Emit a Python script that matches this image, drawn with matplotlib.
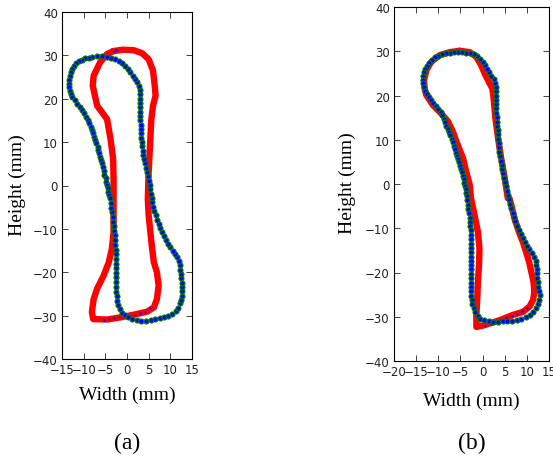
import matplotlib
matplotlib.use("Agg")
import matplotlib.pyplot as plt
import numpy as np

# ---- (a) red contour (thick) ----
red_a_x = [-3.1, -1.0, 1.5, 3.5, 5.0, 6.0, 6.4, 6.6, 6.0, 5.6, 5.4, 5.2, 5.0, 4.8, 5.0, 5.4, 5.8, 6.2,
           6.9, 7.3, 6.9, 6.2, 4.6, 1.5, -1.5, -4.6, -7.8, -8.1, -7.7, -6.9, -5.4, -4.2, -3.5, -3.1,
           -3.1, -3.1, -3.2, -3.8, -4.6, -6.9, -7.9, -7.7, -6.2, -4.6, -3.1]
red_a_y = [31.0, 31.3, 31.2, 30.5, 29.1, 26.5, 23.0, 20.7, 18.4, 15.0, 11.0, 7.0, 3.1, -3.1, -6.9, -10.8,
           -14.6, -17.7, -20.0, -23.1, -26.2, -28.1, -29.1, -29.8, -30.4, -30.9, -30.8, -29.2, -26.2,
           -23.8, -20.8, -17.7, -14.6, -10.8, -3.1, 1.5, 6.1, 10.7, 15.3, 18.4, 23.0, 25.3, 28.4, 30.3, 31.0]

# ---- (a) dotted contour ----
grn_a_x = [-6.9, -8.1, -8.8, -9.6, -10.4, -11.1, -11.7, -12.2, -12.7, -13.0, -13.2, -13.4, -13.4, -13.4,
           -13.2, -13.0, -12.6, -12.1, -11.5, -10.9, -10.4, -9.9, -9.5, -9.1, -8.7, -8.4, -8.1, -7.8,
           -7.6, -7.4, -7.1, -6.8, -6.6, -6.4, -6.2, -5.9, -5.7, -5.5, -5.3, -5.2, -4.9, -4.8, -4.6,
           -4.5, -4.3, -4.2, -4.0, -3.8, -3.6, -3.5, -3.3, -3.2, -3.0, -2.9, -2.8, -2.8, -2.7, -2.6,
           -2.6, -2.5, -2.5, -2.5, -2.5, -2.5, -2.5, -2.5, -2.5, -2.4, -2.2, -2.0, -1.6, -1.1, -0.5,
           0.3, 1.2, 2.2, 3.3, 4.4, 5.5, 6.5, 7.6, 8.6, 9.5, 10.4, 11.2, 11.8, 12.3, 12.5, 12.7, 12.7,
           12.7, 12.6, 12.5, 12.4, 12.3, 12.2, 12.0, 11.6, 11.1, 10.5, 10.0, 9.5, 8.9, 8.5, 8.1, 7.7,
           7.3, 6.9, 6.6, 6.3, 6.1, 5.8, 5.7, 5.5, 5.3, 5.2, 5.0, 4.8, 4.5, 4.3, 4.1, 3.9, 3.8, 3.6,
           3.5, 3.4, 3.3, 3.2, 3.2, 3.2, 3.1, 3.1, 3.1, 3.1, 3.1, 3.1, 3.1, 3.0, 2.8, 2.4, 1.9, 1.4,
           0.8, 0.2, -0.4, -1.1, -1.8, -2.7, -3.6, -4.6, -5.8]
grn_a_y = [29.9, 29.7, 29.5, 29.3, 29.0, 28.7, 28.2, 27.6, 26.8, 26.1, 25.2, 24.4, 23.5, 22.7, 21.8, 21.0,
           20.3, 19.6, 18.9, 18.2, 17.4, 16.6, 15.9, 15.1, 14.3, 13.5, 12.7, 12.0, 11.2, 10.4, 9.7,
           8.9, 8.1, 7.4, 6.6, 5.8, 5.1, 4.2, 3.4, 2.5, 1.7, 0.9, 0.2, -0.6, -1.4, -2.1, -2.9, -4.0,
           -5.1, -6.2, -7.2, -8.3, -9.4, -10.5, -11.5, -12.6, -13.7, -14.8, -15.8, -16.9, -18.0,
           -19.1, -20.2, -21.2, -22.3, -23.4, -24.5, -25.5, -26.6, -27.6, -28.5, -29.3, -29.9, -30.4,
           -30.8, -31.1, -31.2, -31.2, -31.0, -30.8, -30.6, -30.4, -30.1, -29.6, -28.9, -28.2, -27.2,
           -26.3, -25.4, -24.4, -23.4, -22.4, -21.4, -20.4, -19.4, -18.4, -17.4, -16.5, -15.8, -15.0,
           -14.2, -13.5, -12.6, -11.7, -10.8, -9.8, -8.9, -7.9, -6.9, -5.9, -4.9, -3.9, -2.9, -1.9,
           -0.9, 0.1, 1.1, 2.1, 3.1, 4.1, 5.1, 6.1, 7.0, 8.0, 9.0, 10.0, 11.0, 12.0, 13.0, 14.0, 15.0,
           16.0, 17.0, 18.0, 19.0, 20.0, 21.0, 22.0, 23.0, 23.8, 24.5, 25.3, 26.1, 26.8, 27.6, 28.2,
           28.7, 29.1, 29.4, 29.7, 29.9]

# small blue points lying on the red contour (a)
blu_a_x = [-3.1, -2.5, -5.4, -4.2, -3.0, -1.8, -0.6, 0.6, 1.8, 3.0, 4.2, 5.4]
blu_a_y = [31.0, 31.2, -30.9, -30.8, -30.6, -30.4, -30.2, -30.0, -29.8, -29.5, -29.1, -28.3]

# ---- (b) red contour ----
red_b_x = [-5.2, -2.9, -1.4, -0.3, 0.45, 1.4, 2.2, 2.5, 2.9, 3.5, 4.2, 5.0, 5.7, 6.1, 6.5, 7.2, 8.2,
           9.1, 9.8, 10.5, 11.0, 11.5, 11.7, 11.4, 10.6, 9.1, 6.8, 4.6, 2.3, 0.1, -1.4, -1.4, -1.2,
           -1.05, -0.8, -0.7, -1.05, -1.8, -2.6, -2.9, -3.7, -4.4, -5.6, -6.7, -7.8, -9.3, -11.2,
           -12.7, -13.1, -13.2, -12.7, -11.6, -9.7, -7.4, -5.2]
red_b_y = [30.1, 29.8, 28.7, 26.8, 25.0, 23.1, 21.6, 19.3, 14.8, 10.3, 5.8, 1.3, -3.2, -3.3, -4.8,
           -7.8, -10.8, -13.1, -15.3, -17.6, -19.8, -22.1, -24.4, -26.2, -27.7, -28.9, -29.6, -30.5,
           -31.3, -32.0, -32.3, -29.6, -25.9, -22.1, -18.3, -14.6, -10.8, -7.1, -3.3, -0.2, 2.8, 5.8,
           8.8, 11.8, 14.1, 15.9, 17.8, 20.1, 21.6, 23.5, 25.7, 27.6, 29.1, 29.8, 30.1]

# ---- (b) dotted contour ----
grn_b_x = [-5.6, -6.5, -7.4, -8.3, -9.2, -10.0, -10.8, -11.5, -12.1, -12.6, -12.9, -13.2, -13.4, -13.5,
           -13.4, -13.2, -12.9, -12.6, -12.1, -11.6, -11.1, -10.5, -10.0, -9.5, -9.2, -8.8, -8.5,
           -8.2, -7.9, -7.6, -7.3, -7.0, -6.7, -6.4, -6.2, -5.9, -5.7, -5.5, -5.3, -5.0, -4.8, -4.6,
           -4.4, -4.3, -4.1, -4.0, -3.8, -3.7, -3.5, -3.5, -3.3, -3.2, -3.0, -2.9, -2.9, -2.8, -2.7,
           -2.6, -2.6, -2.6, -2.6, -2.6, -2.6, -2.6, -2.7, -2.7, -2.7, -2.7, -2.7, -2.6, -2.6, -2.6,
           -2.4, -2.3, -2.0, -1.7, -1.1, -0.5, 0.4, 1.4, 2.4, 3.5, 4.5, 5.6, 6.6, 7.7, 8.7, 9.7, 10.6,
           11.4, 12.0, 12.5, 12.7, 12.9, 12.8, 12.6, 12.5, 12.3, 12.3, 12.2, 12.1, 12.0, 11.7, 11.1,
           10.5, 10.0, 9.5, 9.1, 8.6, 8.2, 7.7, 7.4, 7.1, 6.8, 6.5, 6.2, 5.9, 5.8, 5.6, 5.3, 5.1,
           4.9, 4.7, 4.4, 4.3, 4.1, 4.0, 3.8, 3.7, 3.6, 3.5, 3.5, 3.4, 3.3, 3.2, 3.2, 3.1, 3.1, 3.1,
           3.1, 3.1, 3.1, 3.0, 2.9, 2.6, 2.0, 1.5, 1.1, 0.5, 0.0, -0.6, -1.3, -2.0, -2.9, -3.7, -4.6]
grn_b_y = [29.8, 29.8, 29.7, 29.5, 29.3, 29.0, 28.6, 28.0, 27.4, 26.7, 25.9, 25.2, 24.4, 23.6, 22.8,
           22.0, 21.1, 20.4, 19.7, 19.0, 18.3, 17.7, 17.0, 16.2, 15.5, 14.7, 14.0, 13.2, 12.5, 11.7,
           11.0, 10.2, 9.5, 8.6, 7.9, 7.1, 6.4, 5.6, 4.9, 4.1, 3.3, 2.6, 1.8, 1.1, 0.3, -0.5, -1.2,
           -2.0, -2.7, -3.7, -4.7, -5.6, -6.6, -7.6, -8.6, -9.5, -10.5, -11.5, -12.5, -13.5, -14.4,
           -15.4, -16.4, -17.4, -18.3, -19.3, -20.3, -21.3, -22.3, -23.2, -24.2, -25.2, -26.2, -27.1,
           -28.1, -29.0, -29.8, -30.4, -30.8, -31.0, -31.1, -31.1, -31.0, -31.0, -30.9, -30.7, -30.4,
           -30.1, -29.6, -28.9, -28.1, -27.2, -26.2, -25.1, -24.1, -23.2, -22.2, -21.2, -20.2, -19.2,
           -18.3, -17.3, -16.4, -15.6, -14.8, -14.1, -13.2, -12.3, -11.4, -10.4, -9.4, -8.4, -7.4,
           -6.5, -5.5, -4.5, -3.5, -2.5, -1.5, -0.5, 0.5, 1.4, 2.4, 3.4, 4.4, 5.3, 6.3, 7.3, 8.3, 9.2,
           10.2, 11.2, 12.2, 13.2, 14.1, 15.1, 16.1, 17.1, 18.0, 19.0, 20.0, 21.0, 22.0, 22.9, 23.8,
           24.4, 25.2, 26.0, 26.8, 27.6, 28.3, 28.9, 29.3, 29.6, 29.7, 29.8]

blu_b_x = [0.6, 1.8, 3.0, 4.2, 5.4, 6.6, 7.8, 9.0, 10.0]
blu_b_y = [-32.0, -31.6, -31.2, -30.8, -30.3, -29.8, -29.3, -28.6, -28.0]

fig = plt.figure(figsize=(5.53, 4.60), dpi=100)
W, H = 553.0, 460.0

ax_a = fig.add_axes([62 / W, 1 - 360 / H, 130 / W, 347 / H])
ax_b = fig.add_axes([394 / W, 1 - 362 / H, 155 / W, 354 / H])

panels = [
    (ax_a, red_a_x, red_a_y, grn_a_x, grn_a_y, blu_a_x, blu_a_y, (-15, 15), np.arange(-15, 16, 5)),
    (ax_b, red_b_x, red_b_y, grn_b_x, grn_b_y, blu_b_x, blu_b_y, (-20, 15), np.arange(-20, 16, 5)),
]

for ax, rx, ry, gx, gy, bx, by, xl, xt in panels:
    ax.plot(rx, ry, color='red', lw=4.6, solid_joinstyle='round', solid_capstyle='round', zorder=2)
    ax.plot(bx, by, 'o', ms=1.6, color='blue', mew=0, zorder=3)
    ax.plot(gx, gy, 'o', ls='none', ms=3.6, mfc='blue', mec='green', mew=0.8, zorder=4)
    ax.set_xlim(*xl)
    ax.set_ylim(-40, 40)
    ax.set_xticks(xt)
    ax.set_yticks(np.arange(-40, 41, 10))
    ax.tick_params(direction='in', top=True, right=True, length=4, width=0.6,
                   labelsize=8.5, pad=3, colors='#222222')
    for s in ax.spines.values():
        s.set_linewidth(0.8)

serif = 'Liberation Serif'
fig.text(127.5 / W, 1 - 395 / H, 'Width (mm)', family=serif, fontsize=14, ha='center', va='center')
fig.text(471 / W, 1 - 401 / H, 'Width (mm)', family=serif, fontsize=14, ha='center', va='center')
fig.text(17 / W, 1 - 185 / H, 'Height (mm)', family=serif, fontsize=14, rotation=90,
         ha='center', va='center')
fig.text(347 / W, 1 - 183 / H, 'Height (mm)', family=serif, fontsize=14, rotation=90,
         ha='center', va='center')
fig.text(127 / W, 1 - 443 / H, '(a)', family=serif, fontsize=17, ha='center', va='center')
fig.text(472 / W, 1 - 443 / H, '(b)', family=serif, fontsize=17, ha='center', va='center')

fig.savefig('out.png', dpi=100)
